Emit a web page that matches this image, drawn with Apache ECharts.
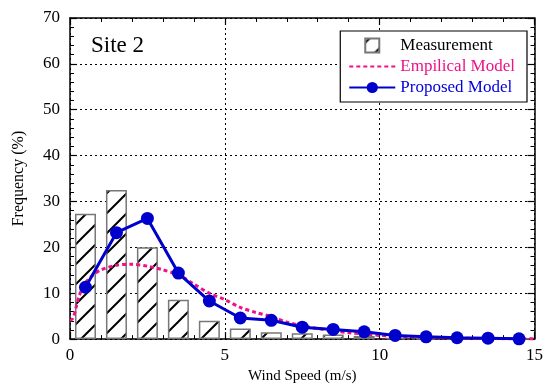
<!DOCTYPE html>
<html>
<head>
<meta charset="utf-8">
<script src="https://cdn.jsdelivr.net/npm/echarts@6/dist/echarts.min.js"></script>
<style>
  html, body { margin: 0; padding: 0; background: #fff; }
  #chart { width: 546px; height: 389px; }
</style>
</head>
<body>
<div id="chart"></div>
<script>
// wind speed bins (m/s, bin centres)
const binCenters = [0.5, 1.5, 2.5, 3.5, 4.5, 5.5, 6.5, 7.5, 8.5, 9.5, 10.5, 11.5, 12.5, 13.5, 14.5];
const measured = [27.3, 32.5, 20.0, 8.6, 4.0, 2.3, 1.5, 1.3, 1.0, 0.7, 0.3, 0.15, 0.1, 0.05, 0.05];
const proposed = [11.3, 23.2, 26.3, 14.4, 8.3, 4.6, 4.1, 2.6, 2.1, 1.6, 0.8, 0.5, 0.3, 0.2, 0.05];

const empX = [0, 0.1, 0.2, 0.3, 0.5, 0.75, 1, 1.5, 2, 2.5, 3, 3.5, 4, 4.5, 5, 5.5, 6, 6.5, 7, 7.5, 8, 8.5, 9, 10, 11, 12, 13, 14, 15];
const empY = [4.0, 4.6, 7.0, 9.5, 12.3, 14.0, 15.1, 16.1, 16.3, 15.9, 15.1, 14.0, 12.0, 10.0, 8.6, 6.9, 5.8, 4.9, 3.7, 2.9, 2.3, 1.8, 1.4, 0.8, 0.5, 0.3, 0.15, 0.1, 0.05];

const xTicks = [0, 5, 10, 15];
const yTicks = [0, 10, 20, 30, 40, 50, 60, 70];

const serif = '"Liberation Serif", "DejaVu Serif", serif';

// diagonal hatch for the measurement bars
const hatch = document.createElement('canvas');
hatch.width = 20;
hatch.height = 20;
const hc = hatch.getContext('2d');
hc.fillStyle = '#fff';
hc.fillRect(0, 0, 20, 20);
hc.strokeStyle = '#000';
hc.lineWidth = 2;
hc.beginPath();
hc.moveTo(-2, 22); hc.lineTo(22, -2);
hc.moveTo(-5, 5); hc.lineTo(5, -5);
hc.moveTo(15, 25); hc.lineTo(25, 15);
hc.stroke();

const chart = echarts.init(document.getElementById('chart'));

const axisCommon = {
  axisLine: { show: true, onZero: false, lineStyle: { color: '#000', width: 1.5 } },
  axisTick: { show: true, inside: true, length: 7, lineStyle: { color: '#000', width: 1.2 } },
  minorTick: { show: true, splitNumber: 5, length: 4, lineStyle: { color: '#000', width: 1 } }
};

chart.setOption({
  animation: false,
  backgroundColor: '#fff',
  title: {
    text: 'Site 2',
    left: 86,
    top: 29,
    textStyle: { fontFamily: serif, fontSize: 23, fontWeight: 'normal', color: '#000' }
  },
  grid: { left: 70, right: 10, top: 18, bottom: 42.5 },
  legend: {
    orient: 'vertical',
    right: 19,
    top: 31,
    padding: [6, 12, 6, 8],
    itemGap: 4,
    itemWidth: 46,
    itemHeight: 14,
    backgroundColor: '#fff',
    borderColor: '#000',
    borderWidth: 1.2,
    textStyle: { fontFamily: serif, fontSize: 17 },
    data: [
      { name: 'Measurement', icon: 'path://M0,0H10V10H0Z', textStyle: { color: '#000' } },
      { name: 'Empilical Model', itemStyle: { color: 'transparent', borderWidth: 0, opacity: 0 }, textStyle: { color: '#ee1188' } },
      { name: 'Proposed Model', textStyle: { color: '#0000dd' } }
    ]
  },
  xAxis: [
    Object.assign({
      type: 'value', min: 0, max: 15, interval: 5,
      name: 'Wind Speed (m/s)', nameLocation: 'middle', nameGap: 27,
      nameTextStyle: { fontFamily: serif, fontSize: 15, color: '#000' },
      axisLabel: { fontFamily: serif, fontSize: 17, color: '#000', margin: 8,
        formatter: v => xTicks.includes(v) ? String(v) : '' },
      splitLine: { show: true, lineStyle: { color: '#000', type: [2, 3], width: 1 } }
    }, axisCommon),
    Object.assign({
      type: 'value', min: 0, max: 15, interval: 5, position: 'top',
      axisLabel: { show: false }, splitLine: { show: false }
    }, axisCommon)
  ],
  yAxis: [
    Object.assign({
      type: 'value', min: 0, max: 70, interval: 10,
      name: 'Frequency (%)', nameLocation: 'middle', nameGap: 43,
      nameTextStyle: { fontFamily: serif, fontSize: 16, color: '#000' },
      axisLabel: { fontFamily: serif, fontSize: 17, color: '#000', margin: 10,
        formatter: v => yTicks.includes(v) ? String(v) : '' },
      splitLine: { show: true, lineStyle: { color: '#000', type: [2, 3], width: 1 } }
    }, axisCommon),
    Object.assign({
      type: 'value', min: 0, max: 70, interval: 10, position: 'right',
      axisLabel: { show: false }, splitLine: { show: false }
    }, axisCommon)
  ],
  series: [
    {
      name: 'Measurement',
      type: 'bar',
      barWidth: 21,
      data: binCenters.map((x, i) => [x, measured[i]]),
      itemStyle: {
        color: { image: hatch, repeat: 'repeat' },
        borderColor: '#777',
        borderWidth: 1.5
      },
      z: 2
    },
    {
      name: 'Empilical Model',
      type: 'line',
      smooth: 0.3,
      showSymbol: false,
      symbol: 'none',
      data: empX.map((x, i) => [x, empY[i]]),
      itemStyle: { color: '#ee1188' },
      lineStyle: { color: '#ee1188', width: 3, type: [4, 3] },
      z: 3
    },
    {
      name: 'Proposed Model',
      type: 'line',
      symbol: 'circle',
      symbolSize: 13,
      data: binCenters.map((x, i) => [x, proposed[i]]),
      itemStyle: { color: '#0000cc' },
      lineStyle: { color: '#0000cc', width: 3 },
      z: 4
    }
  ]
});
</script>
</body>
</html>
